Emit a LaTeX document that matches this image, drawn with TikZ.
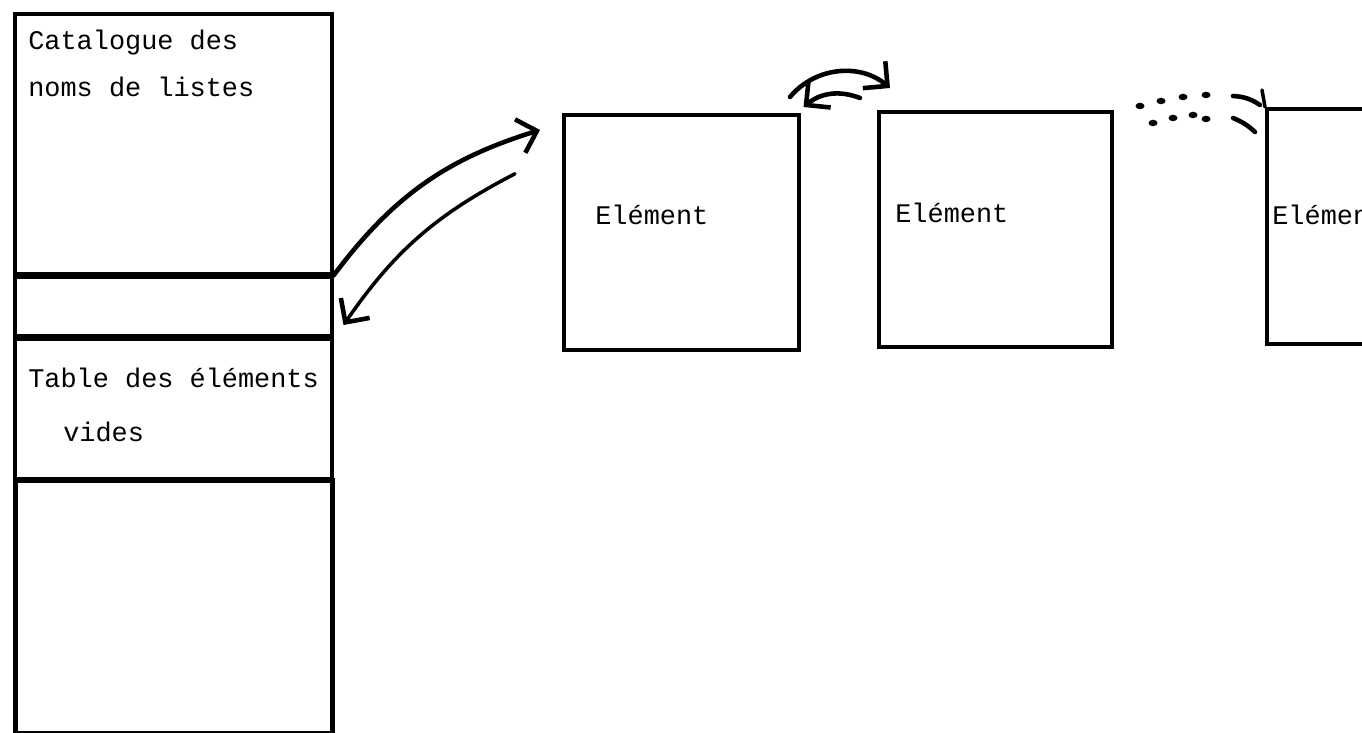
\documentclass[tikz,border=0pt]{standalone}
\usepackage{fontspec}
\setmonofont{Liberation Mono}
\usetikzlibrary{arrows.meta}

\begin{document}
\begin{tikzpicture}[
        cell/.style={draw, line width=2pt, minimum width=6.34cm, anchor=north west, inner sep=0pt},
        elem/.style={draw, line width=2pt, minimum height=4.7cm, anchor=north west, inner sep=0pt},
        txt/.style={anchor=base west, inner sep=0pt, font=\ttfamily\fontsize{15.3}{18}\selectfont},
        hand/.style={line width=2.6pt, line cap=round, -{Straight Barb[length=3.5mm,width=7mm,line width=2.6pt]}}]
        \useasboundingbox[fill=white] (0,0) rectangle (27.24,14.66);
        \clip (0,0) rectangle (27.24,14.66);
        % table column on the left
        \node[cell, minimum height=5.2cm] (catalogue) at (0.26,14.42) {};
        \node[cell, minimum height=1.16cm] (blank) at (catalogue.south west) {};
        \node[cell, minimum height=2.8cm] (table) at (blank.south west) {};
        \node[cell, minimum height=5.06cm, line width=2.6pt] (free) at (0.26,5.1) {};
        \node[txt] (cat1) at (0.56,13.66) {Catalogue des};
        \node[txt] (cat2) at (0.56,12.72) {noms de listes};
        \node[txt] (tab1) at (0.56,6.9) {Table des éléments};
        \node[txt] (tab2) at (1.26,5.82) {vides};
        % list elements
        \node[elem, minimum width=4.7cm] (elem1) at (11.24,12.4) {};
        \node[elem, minimum width=4.66cm] (elem2) at (17.54,12.46) {};
        \node[elem, minimum width=5cm] (elem3) at (25.3,12.52) {};
        \node[txt] (lab1) at (11.9,10.16) {Elément};
        \node[txt] (lab2) at (17.9,10.2) {Elément};
        \node[txt] (lab3) at (25.44,10.16) {Elément};
        % links
        \coordinate (in1) at ([shift={(-0.44,-0.34)}]elem1.north west);
        \coordinate (out1) at ([shift={(-0.94,1.17)}]elem1.west);
        \coordinate (back) at ([shift={(0.2,0.24)}]blank.south east);
        \draw[hand] (catalogue.south east) to[bend left=18] (in1);
        \draw[hand, line width=2pt] (out1) to[bend right=14] (back);
        \coordinate (go2) at ([shift={(-1.74,0.26)}]elem2.north west);
        \coordinate (in2) at ([shift={(0.26,0.44)}]elem2.north west);
        \coordinate (ret2) at ([shift={(-0.34,0.24)}]elem2.north west);
        \coordinate (in12) at ([shift={(0.06,0.12)}]elem1.north east);
        \draw[hand] (go2) to[bend left=45] (in2);
        \draw[hand] (ret2) to[bend right=30] (in12);
        % dots and last arrow
        \foreach \x/\y in {22.8/12.54, 23.22/12.64, 23.66/12.72, 24.12/12.76,
                           23.06/12.2, 23.46/12.3, 23.86/12.36, 24.12/12.28}
          \fill (\x,\y) ellipse [x radius=0.09, y radius=0.065];
        \draw[line width=2.6pt, line cap=round] (24.66,12.74) to[bend left=15] (25.2,12.56);
        \draw[line width=2.6pt, line cap=round] (24.66,12.3) to[bend left=10] (25.1,12.02);
        \draw[line width=2pt, line cap=round] (25.24,12.86) -- (elem3.north west);
        \end{tikzpicture}
\end{document}
